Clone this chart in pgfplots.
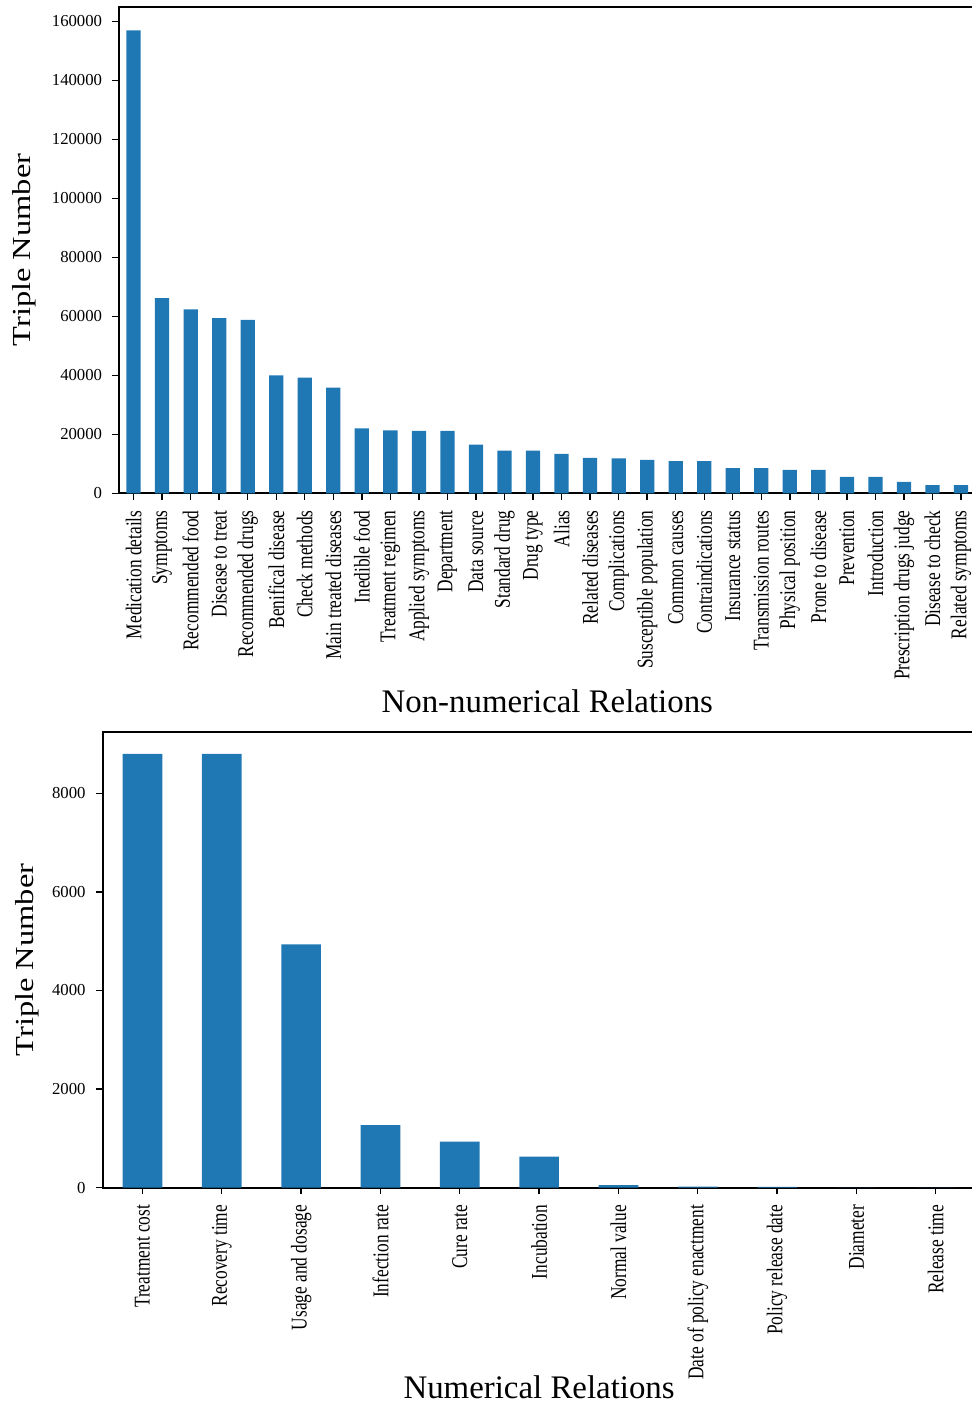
\documentclass[border=0pt]{standalone}
\usepackage{fontspec}
\setmainfont{Liberation Serif}
\usepackage{graphicx}
\usepackage{pgfplots}
\pgfplotsset{compat=1.18}
\definecolor{mplblue}{HTML}{1F77B4}
\newcommand\xl[1]{\scalebox{0.77}[1]{#1}}

\pgfplotsset{
  relbar/.style={
    scale only axis,
    anchor=south west,
    ybar,
    bar width=0.5,
    ymin=0,
    axis line style={line width=1bp},
    tick align=outside,
    major tick length=3.4bp,
    tick style={line width=0.7bp, black},
    xtick pos=bottom, ytick pos=left,
    scaled y ticks=false,
    /pgf/number format/assume math mode=true,
    yticklabel style={/pgf/number format/fixed, /pgf/number format/precision=0,
      /pgf/number format/1000 sep={},
      font=\fontsize{8.4}{9}\selectfont, inner sep=0pt, xshift=-5bp},
    xticklabel style={font=\fontsize{11.3}{12}\selectfont, rotate=90, anchor=east, inner sep=0pt, xshift=-5bp},
    xlabel style={font=\fontsize{16.5}{18}\selectfont, anchor=center, inner sep=1bp},
    ylabel style={font=\fontsize{16.3}{18}\selectfont, anchor=center, rotate=0},
  }
}

\begin{document}
\begin{tikzpicture}
\useasboundingbox (0,0) rectangle (486bp,702.5bp);

% non-numerical relations
\begin{axis}[relbar,
  at={(59.65bp,455.85bp)},
  width=428bp, height=243.15bp,
  xmin=-0.5, xmax=29.5, ymax=164900,
  ytick={0,20000,40000,60000,80000,100000,120000,140000,160000},
  xtick={0,...,29},
  xticklabels={\xl{Medication details},\xl{Symptoms},\xl{Recommended food},\xl{Disease to treat},\xl{Recommended drugs},\xl{Benifical disease},\xl{Check methods},\xl{Main treated diseases},\xl{Inedible food},\xl{Treatment regimen},\xl{Applied symptoms},\xl{Department},\xl{Data source},\xl{Standard drug},\xl{Drug type},\xl{Alias},\xl{Related diseases},\xl{Complications},\xl{Susceptible population},\xl{Common causes},\xl{Contraindications},\xl{Insurance status},\xl{Transmission routes},\xl{Physical position},\xl{Prone to disease},\xl{Prevention},\xl{Introduction},\xl{Prescription drugs judge},\xl{Disease to check},\xl{Related symptoms}},
  xlabel={Non-numerical Relations},
  xlabel style={at={(axis description cs:0.5,-0.427)}},
  ylabel={\scalebox{1}[0.8]{Triple Number}},
  ylabel style={at={(axis description cs:-0.111,0.5)}},
]
\addplot[fill=mplblue, draw=none] coordinates {
  (0,157000) (1,66200) (2,62400) (3,59400) (4,58800)
  (5,40000) (6,39200) (7,35800) (8,22000) (9,21300)
  (10,21200) (11,21200) (12,16500) (13,14500) (14,14500)
  (15,13400) (16,12000) (17,11800) (18,11300) (19,10900)
  (20,10900) (21,8500) (22,8500) (23,7900) (24,7900)
  (25,5600) (26,5600) (27,3900) (28,2800) (29,2800)
};
\end{axis}

% numerical relations
\begin{axis}[relbar,
  at={(51.4bp,108.65bp)},
  width=436.3bp, height=227.7bp,
  xmin=-0.5, xmax=10.5, ymax=9237,
  ytick={0,2000,4000,6000,8000},
  xtick={0,...,10},
  xticklabels={\xl{Treatment cost},\xl{Recovery time},\xl{Usage and dosage},\xl{Infection rate},\xl{Cure rate},\xl{Incubation},\xl{Normal value},\xl{Date of policy enactment},\xl{Policy release date},\xl{Diameter},\xl{Release time}},
  xlabel={Numerical Relations},
  xlabel style={at={(axis description cs:0.5,-0.438)}},
  ylabel={\scalebox{1}[0.8]{Triple Number}},
  ylabel style={at={(axis description cs:-0.0868,0.5)}},
]
\addplot[fill=mplblue, draw=none] coordinates {
  (0,8800) (1,8800) (2,4935) (3,1270) (4,933) (5,629)
  (6,54) (7,20) (8,15) (9,4) (10,2)
};
\end{axis}
\end{tikzpicture}
\end{document}
